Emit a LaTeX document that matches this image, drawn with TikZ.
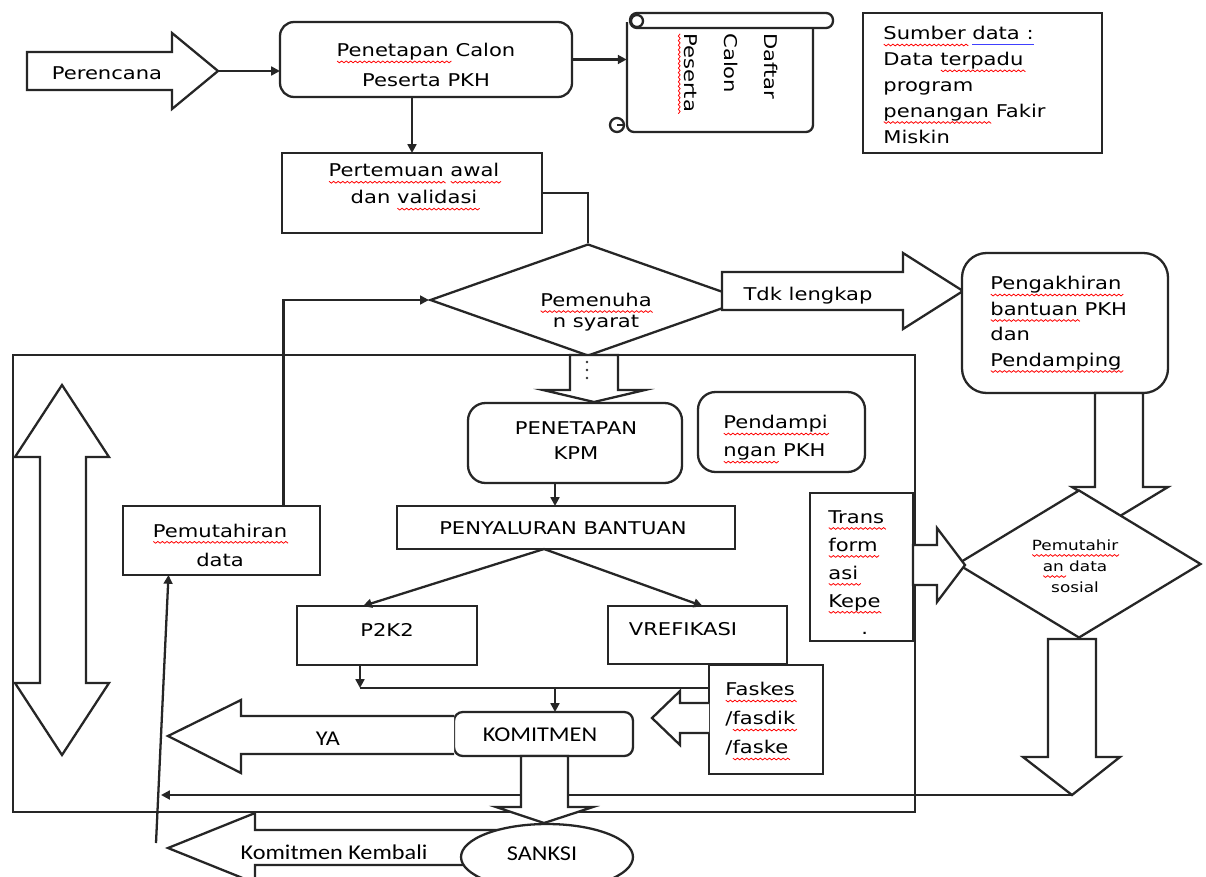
\documentclass[tikz,border=0pt]{standalone}
\usepackage{fontspec}
\setmainfont{DejaVu Sans}[FakeStretch=1.2]
\newfontfamily\carl{Carlito}[FakeStretch=1.15]
\usetikzlibrary{arrows.meta,shapes.geometric,fit,calc}
\newsavebox\sqbox
\newdimen\sqx
\newcount\sqk
\newcommand\sq[1]{\leavevmode\sbox\sqbox{#1}%
  \rlap{\begin{pgfpicture}\pgfsetbaseline{0pt}%
    \pgfsetstrokecolor{red}\pgfsetlinewidth{0.45pt}%
    \sqx=0pt \sqk=0
    \pgfpathmoveto{\pgfpoint{0pt}{-2.5pt}}%
    \loop \advance\sqx by 1.3pt \advance\sqk by 1
      \ifodd\sqk \pgfpathlineto{\pgfpoint{\sqx}{-3.5pt}}\else\pgfpathlineto{\pgfpoint{\sqx}{-2.5pt}}\fi
    \ifdim\sqx<\wd\sqbox \repeat
    \pgfusepath{stroke}%
  \end{pgfpicture}}\usebox\sqbox}
\newcommand\bu[1]{\leavevmode\sbox\sqbox{#1}\rlap{\textcolor{blue!75}{\rule[-3pt]{\wd\sqbox}{0.8pt}}}\usebox\sqbox}
\begin{document}
\begin{tikzpicture}[x=0.02cm,y=-0.02cm,
  ln/.style={line width=1.3pt, draw=black!85},
  arr/.style={ln, -{Triangle[length=5pt,width=5pt]}},
  box/.style={ln, inner sep=0pt, outer sep=0pt, fill=white, rectangle},
  blk/.style={ln, fill=white, line join=miter},
  tx/.style={inner sep=0pt, align=center, font=\fontsize{10}{#1}\selectfont},
  ltx/.style={tx=#1, align=left},
  ctx/.style={inner sep=0pt, font=\carl\fontsize{12}{14}\selectfont},
]
\useasboundingbox (0,0) rectangle (1206,876);
\clip (0,0) rectangle (1206,876);
\fill[white] (0,0) rectangle (1206,876);

% inner frame
\node[box, fill=none, fit={(13,355)(915,812)}] (frame) {};

% double vertical arrow
\draw[blk] (40,457) -- (15,457) -- (62,385) -- (109,457) -- (86,457) -- (86,683) -- (109,683) -- (62,755) -- (15,683) -- (40,683) -- cycle;

% Perencana
\draw[blk] (27,52) -- (172,52) -- (172,33) -- (218,71) -- (172,109) -- (172,90) -- (27,90) -- cycle;
\coordinate (perTip) at (218,71);
\node[tx=12] (perenct) at (107,73) {Perencana};

% Penetapan Calon Peserta PKH
\node[box, rounded corners=8pt, fit={(280,22)(572,97)}] (pen) {};
\node[tx=17] (pent) at (426,65) {\sq{Penetapan} Calon\\Peserta PKH};

% scroll
\node[fit={(627,28)(813,132)}, inner sep=0pt] (scroll) {};
\draw[ln, fill=white, rounded corners=4pt] (627,22) -- (627,132) -- (813,132) -- (813,22);
\draw[ln, fill=white, rounded corners=4pt] (630,13) rectangle (833,28);
\draw[ln, fill=white] (637,21) circle (6);
\draw[ln, fill=white] (617,125) circle (7);
\draw[ln] (617,125) -- (624,125);
\node[ltx=22.7, rotate=-90, anchor=north west] (daftar) at (778,33) {Daftar\\Calon\\\sq{Peserta}};

% Sumber data
\node[box, fit={(863,13)(1102,153)}] (sumber) {};
\node[ltx=14.7, anchor=north west] (sumbert) at (883,26) {\sq{Sumber} \bu{data :}\\Data \sq{terpadu}\\program\\\sq{penangan} Fakir\\Miskin};

% Pertemuan awal
\node[box, fit={(282,153)(542,233)}] (pert) {};
\node[tx=15.3] (pertt) at (414,187) {\sq{Pertemuan} \sq{awal}\\dan \sq{validasi}};

% Pemenuhan syarat
\node[ln, diamond, fill=white, inner sep=0pt, minimum width=6.32cm, minimum height=2.24cm] (syarat) at (588,300) {};
\node[tx=12] (syaratt) at (596,312) {\sq{Pemenuha}\\n syarat};

% Tdk lengkap
\draw[blk] (722,272) -- (903,272) -- (903,253) -- (963,291) -- (903,329) -- (903,310) -- (722,310) -- cycle;
\node[tx=12] (tdk) at (808,296) {Tdk lengkap};

% Pengakhiran
\node[box, rounded corners=14pt, fit={(962,253)(1168,393)}] (akhir) {};
\node[ltx=14.5, anchor=north west] (akhirt) at (990,276) {\sq{Pengakhiran}\\\sq{bantuan} PKH\\dan\\\sq{Pendamping}};

% arrow to Pemutahiran data sosial
\draw[blk] (1095,393) -- (1095,487) -- (1072,487) -- (1120,516) -- (1168,487) -- (1143,487) -- (1143,393) -- cycle;
\node[ln, diamond, fill=white, inner sep=0pt, minimum width=4.88cm, minimum height=2.96cm] (sosial) at (1079,564) {};
\node[inner sep=0pt, align=center, font=\fontsize{8}{12}\selectfont] (sosialt) at (1075,566) {\sq{Pemutahir}\\\sq{an} data\\sosial};

% Transformasi
\node[box, fit={(810,493)(913,641)}] (trans) {};
\node[ltx=15.9, anchor=north west] (transt) at (828,510) {\sq{Trans}\\\sq{form}\\\sq{asi}\\\sq{Kepe}\\\hspace*{0.66cm}.};
\draw[blk] (913,545) -- (937,545) -- (937,528) -- (965,565) -- (937,602) -- (937,585) -- (913,585) -- cycle;

% lower down arrow
\draw[blk] (1048,639) -- (1048,757) -- (1023,757) -- (1072,795) -- (1120,757) -- (1096,757) -- (1096,639) -- cycle;
\coordinate (tipS) at (1072,795);
\coordinate (lineL) at (161,795);

% syarat -> KPM
\draw[blk] (570,355) -- (570,390) -- (543,390) -- (594,402) -- (645,390) -- (618,390) -- (618,355) -- cycle;
\foreach \yy in {362,370,378} \fill[black!80] (587,\yy) circle (1.3);

% PENETAPAN KPM
\node[box, rounded corners=10pt, fit={(468,403)(682,483)}] (kpm) {};
\node[tx=14.2] (kpmt) at (576,441) {PENETAPAN\\KPM};

% Pendampingan
\node[box, rounded corners=10pt, fit={(698,392)(865,472)}] (damp) {};
\node[ltx=16, anchor=north west] (dampt) at (723,415) {\sq{Pendampi}\\\sq{ngan} PKH};

% Penyaluran
\node[box, fit={(397,506)(735,549)}] (peny) {};
\node[tx=12] (penyt) at (563,528) {PENYALURAN BANTUAN};

\node[box, fit={(297,606)(477,665)}] (p2k2) {};
\node[tx=12] (p2k2t) at (387,630) {P2K2};
\node[box, fit={(608,606)(787,664)}] (vref) {};
\node[tx=12] (vreft) at (683,629) {VREFIKASI};

% Faskes
\node[box, fit={(709,665)(823,774)}] (faskes) {};
\node[ltx=16.5, anchor=north west] (faskest) at (725,682) {\sq{Faskes}\\/\sq{fasdik}\\/\sq{faske}};
\draw[blk] (709,703) -- (680,703) -- (680,691) -- (652,718) -- (680,745) -- (680,733) -- (709,733);

% Komitmen
\node[box, rounded corners=5pt, fit={(454,712)(633,756)}] (komit) {};
\node[ctx] (komitt) at (540,735) {KOMITMEN};

% YA
\draw[blk] (454,716) -- (241,716) -- (241,700) -- (168,736) -- (241,773) -- (241,754) -- (454,754);
\node[ctx] (ya) at (328,739) {YA};

% return line
\draw[arr] (tipS) -- (lineL);

% Sanksi
\draw[blk] (521,756) -- (521,807) -- (496,807) -- (544,823) -- (593,807) -- (568,807) -- (568,756) -- cycle;
\draw[blk] (505,830) -- (255,830) -- (255,813) -- (168,848) -- (255,883) -- (255,865) -- (505,865) -- cycle;
\node[ctx] (kembali) at (334,852) {Komitmen Kembali};
\node[ln, ellipse, fill=white, inner sep=0pt, minimum width=3.44cm, minimum height=1.32cm] (sanksi) at (547,857) {};
\node[ctx] (sanksit) at (542,854) {SANKSI};

% Pemutahiran data
\node[box, fit={(123,506)(320,575)}] (pemdata) {};
\node[tx=16.5] (pemdatat) at (220,545) {\sq{Pemutahiran}\\data};
\coordinate (kb) at (156,843);

% connectors
\draw[arr] (perTip) -- (perTip -| pen.west);
\draw[arr] (pen.east) -- (pen.east -| scroll.west);
\draw[arr] (pen.south -| pert.north) -- (pert.north);
\draw[ln] (pert.east) -| (syarat.north);
\draw[arr] ($(pemdata.north)+(62,0)$) |- (syarat.west);
\coordinate (k1) at ($(kpm.south)+(-20,0)$);
\draw[arr] (k1) -- (k1 |- peny.north);
\coordinate (pf) at ($(peny.south)+(-22,0)$);
\draw[arr] (pf) -- ($(p2k2.north)+(-24,0)$);
\draw[arr] (pf) -- ($(vref.north)+(5,0)$);
\coordinate (pb) at ($(p2k2.south)+(-27,0)$);
\coordinate (busL) at (360,688);
\draw[arr] (pb) -- (busL);
\draw[ln] (busL) -- (busL -| faskes.west);
\draw[arr] (busL -| k1) -- (k1 |- komit.north);
\draw[arr] (kb) -- ($(pemdata.south)+(-53,0)$);
\end{tikzpicture}
\end{document}
